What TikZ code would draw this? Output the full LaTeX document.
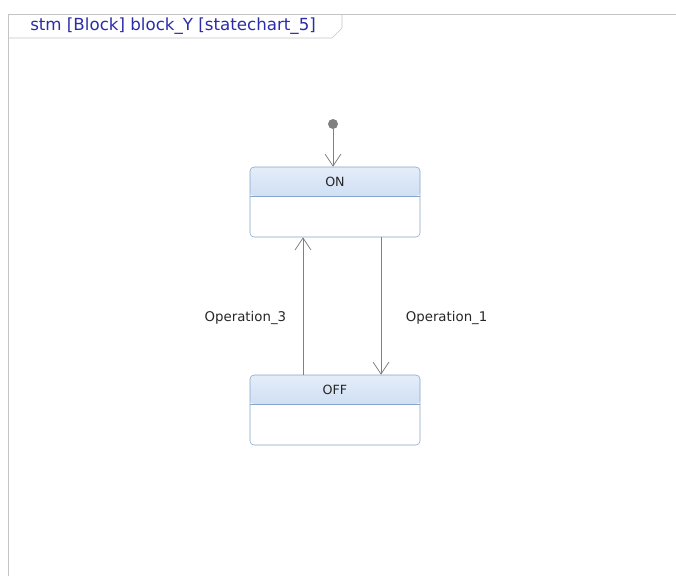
\documentclass[tikz,border=0pt]{standalone}
\usepackage{fontspec}
\setmainfont{DejaVu Sans}
\usetikzlibrary{arrows.meta}
\definecolor{framegray}{RGB}{196,196,196}
\definecolor{titleblue}{RGB}{44,44,168}
\definecolor{stateborder}{RGB}{132,164,200}
\definecolor{headtop}{RGB}{228,237,250}
\definecolor{headbot}{RGB}{180,204,236}
\definecolor{wiregray}{RGB}{128,128,128}
\tikzset{
  state/.style={draw=stateborder, rounded corners=3pt, fill=white,
    minimum width=127.5pt, inner sep=0pt, text height=14.5pt, text depth=38pt,
    font=\fontsize{9.5}{11}\selectfont, text=black!85,
    path picture={
      \shade[top color=headtop, bottom color=headbot]
        (path picture bounding box.north west) rectangle
        ([yshift=-21.75pt]path picture bounding box.north east);
      \draw[stateborder] ([yshift=-21.75pt]path picture bounding box.north west) --
        ([yshift=-21.75pt]path picture bounding box.north east);}},
  wire/.style={wiregray, semithick, -{Straight Barb[length=9pt,width=12pt]}},
  op/.style={font=\fontsize{10}{12}\selectfont, text=black!85}
}
\begin{document}
\begin{tikzpicture}[x=0.75pt, y=-0.75pt, node distance=156pt]
   \useasboundingbox (0,0) rectangle (676,576);
   % frame and title tab
   \draw[framegray] (8,576) -- (8,14) -- (676,14);
   \draw[framegray] (8,38) -- (332,38) -- (342,28) -- (342,14);
   \node (title) [anchor=west, text=titleblue, font=\fontsize{12.5}{14}\selectfont, inner sep=0pt] at (30,26) {stm [Block] block\_Y [statechart\_5]};
   % states
   \node (init) [circle, fill=wiregray, inner sep=0pt, minimum size=7.5pt] at (333,124) {};
   \node (on)  [state] at (335,202) {ON};
   \node (off) [state, below of=on] {OFF};
   % transitions
   \draw[wire] (init) -- (init |- on.north);
   \draw[wire] ([xshift=-24pt]off.north) -- node[op, pos=0.41, left=9pt] (op3) {Operation\_3} ([xshift=-24pt]on.south);
   \draw[wire] ([xshift=34.5pt]on.south) -- node[op, pos=0.59, right=15pt] (op1) {Operation\_1} ([xshift=34.5pt]off.north);
\end{tikzpicture}
\end{document}
